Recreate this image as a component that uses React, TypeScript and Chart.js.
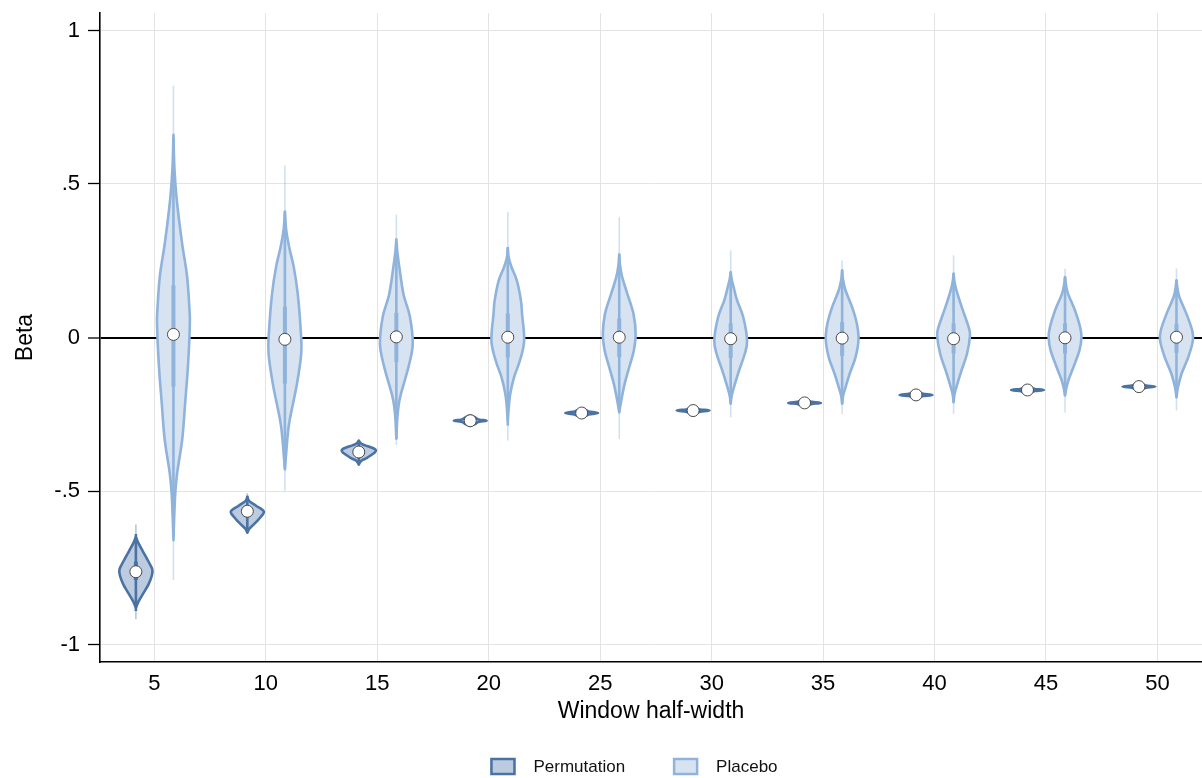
import React, { useEffect, useRef } from "react";
import { Chart, registerables } from "chart.js";

Chart.register(...registerables);

// ---------- data ----------
const windows = [5, 10, 15, 20, 25, 30, 35, 40, 45, 50];
const seriesNames = ["Permutation", "Placebo"];
const yTickValues = [-1, -0.5, 0, 0.5, 1];
const yTickLabels = ["-1", "-.5", "0", ".5", "1"];

// medians
const permMedian = [-0.763, -0.566, -0.373, -0.271, -0.246, -0.238, -0.213, -0.187, -0.171, -0.16];
const placeboMedian = [0.01, -0.006, 0.002, 0.001, 0.001, -0.004, -0.002, -0.004, -0.001, 0.001];

// box (IQR)
const permQ1 = [-0.79, -0.585, -0.38, -0.275, -0.249, -0.241, -0.216, -0.19, -0.174, -0.163];
const permQ3 = [-0.73, -0.55, -0.365, -0.267, -0.243, -0.235, -0.21, -0.184, -0.168, -0.157];
const placeboQ1 = [-0.16, -0.15, -0.08, -0.065, -0.064, -0.066, -0.06, -0.052, -0.052, -0.05];
const placeboQ3 = [0.17, 0.1, 0.08, 0.078, 0.062, 0.046, 0.05, 0.046, 0.046, 0.045];

// whiskers (adjacent values)
const permWhiskLo = [-0.891, -0.636, -0.41, -0.284, -0.254, -0.245, -0.22, -0.194, -0.178, -0.167];
const permWhiskHi = [-0.64, -0.515, -0.335, -0.258, -0.238, -0.231, -0.206, -0.18, -0.164, -0.153];
const placeboWhiskLo = [-0.65, -0.426, -0.33, -0.287, -0.244, -0.216, -0.216, -0.211, -0.189, -0.195];
const placeboWhiskHi = [0.65, 0.41, 0.31, 0.295, 0.273, 0.213, 0.219, 0.208, 0.197, 0.186];

// extreme values (thin tails)
const permMin = [-0.918, -0.64, -0.414, -0.286, -0.256, -0.246, -0.221, -0.195, -0.179, -0.168];
const permMax = [-0.609, -0.507, -0.332, -0.256, -0.236, -0.23, -0.205, -0.179, -0.163, -0.152];
const placeboMin = [-0.79, -0.5, -0.35, -0.336, -0.331, -0.26, -0.249, -0.249, -0.244, -0.238];
const placeboMax = [0.82, 0.56, 0.4, 0.409, 0.392, 0.284, 0.251, 0.268, 0.224, 0.225];

// density profiles: [beta, relative density]
const permDensity: number[][][] = [
  [[-0.88, 0], [-0.858, 0.18], [-0.831, 0.48], [-0.804, 0.77], [-0.776, 0.97], [-0.755, 1], [-0.728, 0.75], [-0.695, 0.41], [-0.668, 0.14], [-0.65, 0]],
  [[-0.636, 0], [-0.623, 0.12], [-0.607, 0.43], [-0.583, 0.84], [-0.566, 1], [-0.548, 0.53], [-0.533, 0.12], [-0.52, 0]],
  [[-0.414, 0], [-0.402, 0.14], [-0.391, 0.53], [-0.373, 1], [-0.362, 0.94], [-0.347, 0.2], [-0.336, 0]],
  [[-0.288, 0], [-0.282, 0.3], [-0.277, 0.42], [-0.274, 0.58], [-0.271, 1], [-0.268, 0.58], [-0.265, 0.42], [-0.26, 0.3], [-0.254, 0]],
  [[-0.259, 0], [-0.254, 0.3], [-0.2505, 0.44], [-0.246, 1], [-0.2415, 0.44], [-0.238, 0.3], [-0.233, 0]],
  [[-0.249, 0], [-0.244, 0.3], [-0.2415, 0.45], [-0.238, 1], [-0.2345, 0.45], [-0.232, 0.3], [-0.227, 0]],
  [[-0.223, 0], [-0.219, 0.3], [-0.2165, 0.45], [-0.213, 1], [-0.2095, 0.45], [-0.207, 0.3], [-0.203, 0]],
  [[-0.197, 0], [-0.193, 0.3], [-0.1905, 0.45], [-0.187, 1], [-0.1835, 0.45], [-0.181, 0.3], [-0.177, 0]],
  [[-0.181, 0], [-0.177, 0.3], [-0.1745, 0.45], [-0.171, 1], [-0.1675, 0.45], [-0.165, 0.3], [-0.161, 0]],
  [[-0.17, 0], [-0.166, 0.3], [-0.1635, 0.45], [-0.16, 1], [-0.1565, 0.45], [-0.154, 0.3], [-0.15, 0]],
];

const placeboDensity: number[][][] = [
  [[-0.66, 0], [-0.58, 0.05], [-0.5, 0.12], [-0.44, 0.23], [-0.33, 0.54], [-0.21, 0.72], [-0.09, 0.89], [0.04, 1], [0.09, 0.98], [0.2, 0.83], [0.31, 0.52], [0.45, 0.2], [0.55, 0.06], [0.66, 0]],
  [[-0.43, 0], [-0.33, 0.15], [-0.27, 0.29], [-0.15, 0.74], [-0.05, 1], [0.02, 0.97], [0.14, 0.79], [0.23, 0.54], [0.29, 0.28], [0.35, 0.08], [0.41, 0]],
  [[-0.33, 0], [-0.27, 0.05], [-0.23, 0.12], [-0.19, 0.25], [-0.09, 0.77], [-0.02, 1], [0.07, 0.82], [0.14, 0.44], [0.23, 0.18], [0.28, 0.06], [0.32, 0]],
  [[-0.27, 0], [-0.227, 0.06], [-0.184, 0.15], [-0.13, 0.38], [-0.075, 0.74], [-0.01, 1], [0.077, 0.87], [0.121, 0.8], [0.186, 0.55], [0.229, 0.23], [0.26, 0.06], [0.29, 0]],
  [[-0.244, 0], [-0.206, 0.12], [-0.151, 0.33], [-0.097, 0.61], [-0.042, 0.89], [0.012, 1], [0.077, 0.87], [0.143, 0.49], [0.197, 0.18], [0.235, 0.05], [0.27, 0]],
  [[-0.216, 0], [-0.19, 0.06], [-0.162, 0.2], [-0.108, 0.51], [-0.053, 0.86], [-0.01, 1], [0.066, 0.77], [0.121, 0.39], [0.164, 0.18], [0.19, 0.06], [0.213, 0]],
  [[-0.216, 0], [-0.19, 0.06], [-0.162, 0.21], [-0.118, 0.46], [-0.064, 0.82], [-0.005, 1], [0.045, 0.9], [0.099, 0.61], [0.153, 0.21], [0.19, 0.05], [0.219, 0]],
  [[-0.211, 0], [-0.184, 0.06], [-0.151, 0.23], [-0.108, 0.48], [-0.053, 0.82], [0.005, 1], [0.034, 0.92], [0.099, 0.5], [0.153, 0.18], [0.18, 0.06], [0.208, 0]],
  [[-0.189, 0], [-0.17, 0.06], [-0.14, 0.2], [-0.097, 0.51], [-0.042, 0.88], [0, 1], [0.034, 0.92], [0.088, 0.61], [0.143, 0.18], [0.175, 0.05], [0.197, 0]],
  [[-0.195, 0], [-0.162, 0.09], [-0.118, 0.31], [-0.064, 0.72], [-0.01, 1], [0.023, 0.96], [0.077, 0.61], [0.131, 0.18], [0.16, 0.06], [0.186, 0]],
];

// ---------- styling ----------
const FONT = '"Liberation Sans", Arial, Helvetica, sans-serif';
const PERM_OFFSET = -0.83;
const PLACEBO_OFFSET = 0.855;
const VIOLIN_HALF = 0.735; // in x units
const X_MIN = 2.56;
const X_MAX = 52.0;
const Y_MIN = -1.057;
const Y_MAX = 1.057;

const seriesStyle = [
  { fill: "#bccbdf", line: "#4a72a3", offset: PERM_OFFSET },
  { fill: "#d7e3f1", line: "#8fb3db", offset: PLACEBO_OFFSET },
];

const seriesData = [
  { median: permMedian, q1: permQ1, q3: permQ3, wlo: permWhiskLo, whi: permWhiskHi, min: permMin, max: permMax, dens: permDensity },
  { median: placeboMedian, q1: placeboQ1, q3: placeboQ3, wlo: placeboWhiskLo, whi: placeboWhiskHi, min: placeboMin, max: placeboMax, dens: placeboDensity },
];

function smoothPath(ctx: CanvasRenderingContext2D, pts: number[][], move: boolean) {
  if (move) ctx.moveTo(pts[0][0], pts[0][1]);
  else ctx.lineTo(pts[0][0], pts[0][1]);
  for (let i = 0; i < pts.length - 1; i++) {
    const p0 = pts[Math.max(i - 1, 0)];
    const p1 = pts[i];
    const p2 = pts[i + 1];
    const p3 = pts[Math.min(i + 2, pts.length - 1)];
    ctx.bezierCurveTo(
      p1[0] + (p2[0] - p0[0]) / 6,
      p1[1] + (p2[1] - p0[1]) / 6,
      p2[0] - (p3[0] - p1[0]) / 6,
      p2[1] - (p3[1] - p1[1]) / 6,
      p2[0],
      p2[1]
    );
  }
}

const violinPlugin = {
  id: "violins",
  beforeDatasetsDraw(chart: any) {
    const { ctx, scales } = chart;
    const xs = scales.x;
    const ys = scales.y;
    seriesData.forEach((s, si) => {
      const st = seriesStyle[si];
      windows.forEach((w, i) => {
        const cx = w + st.offset;
        const px = xs.getPixelForValue(cx);
        const hw = xs.getPixelForValue(cx + VIOLIN_HALF) - px;
        ctx.save();
        ctx.lineCap = "butt";
        // faint tails
        ctx.strokeStyle = st.line;
        ctx.globalAlpha = 0.4;
        ctx.lineWidth = 1.6;
        ctx.beginPath();
        ctx.moveTo(px, ys.getPixelForValue(s.min[i]));
        ctx.lineTo(px, ys.getPixelForValue(s.max[i]));
        ctx.stroke();
        ctx.globalAlpha = 1;
        // body
        const dens = s.dens[i];
        const left = dens.map(([b, r]) => [px - r * hw, ys.getPixelForValue(b)]);
        const right = dens.slice().reverse().map(([b, r]) => [px + r * hw, ys.getPixelForValue(b)]);
        ctx.beginPath();
        smoothPath(ctx, left, true);
        smoothPath(ctx, right, false);
        ctx.closePath();
        ctx.fillStyle = st.fill;
        ctx.fill();
        ctx.lineJoin = "round";
        ctx.lineWidth = 2.6;
        ctx.strokeStyle = st.line;
        ctx.stroke();
        // whisker
        ctx.lineWidth = 2.6;
        ctx.beginPath();
        ctx.moveTo(px, ys.getPixelForValue(s.wlo[i]));
        ctx.lineTo(px, ys.getPixelForValue(s.whi[i]));
        ctx.stroke();
        // box
        ctx.lineWidth = 4;
        ctx.beginPath();
        ctx.moveTo(px, ys.getPixelForValue(s.q1[i]));
        ctx.lineTo(px, ys.getPixelForValue(s.q3[i]));
        ctx.stroke();
        ctx.restore();
      });
    });
  },
};

const legendPlugin = {
  id: "violinLegend",
  afterDraw(chart: any) {
    const ctx: CanvasRenderingContext2D = chart.ctx;
    ctx.save();
    ctx.font = `17px ${FONT}`;
    const boxW = 25;
    const boxH = 17;
    const gapText = 18;
    const gapItem = 48;
    const widths = seriesNames.map((t) => ctx.measureText(t).width);
    const total = widths.reduce((a, w) => a + boxW + gapText + w, 0) + gapItem * (seriesNames.length - 1);
    let x = 634 - total / 2;
    const yTop = 758;
    seriesNames.forEach((name, i) => {
      const st = seriesStyle[i];
      ctx.fillStyle = st.fill;
      ctx.fillRect(x, yTop, boxW, boxH);
      ctx.strokeStyle = st.line;
      ctx.lineWidth = 2.5;
      ctx.strokeRect(x + 1, yTop + 1, boxW - 2, boxH - 2);
      ctx.fillStyle = "#111";
      ctx.textBaseline = "middle";
      ctx.textAlign = "left";
      ctx.fillText(name, x + boxW + gapText, yTop + boxH / 2 + 1);
      x += boxW + gapText + widths[i] + gapItem;
    });
    ctx.restore();
  },
};

export default function App() {
  const canvasRef = useRef<HTMLCanvasElement | null>(null);

  useEffect(() => {
    document.body.style.margin = "0";
    document.body.style.overflow = "hidden";
    const canvas = canvasRef.current;
    if (!canvas) return;
    const pointStyle = {
      pointRadius: 6,
      pointHoverRadius: 6,
      pointBackgroundColor: "#ffffff",
      pointBorderColor: "#4a4a4a",
      pointBorderWidth: 1,
      showLine: false,
    };
    const chart = new Chart(canvas, {
      type: "scatter",
      data: {
        datasets: seriesData.map((s, si) => ({
          label: seriesNames[si],
          data: windows.map((w, i) => ({ x: w + seriesStyle[si].offset, y: s.median[i] })),
          ...pointStyle,
        })),
      },
      options: {
        animation: false,
        responsive: false,
        events: [],
        layout: { autoPadding: false, padding: { top: 13, right: 0, bottom: 0, left: 0 } },
        plugins: {
          legend: { display: false },
          tooltip: { enabled: false },
        },
        scales: {
          x: {
            type: "linear",
            min: X_MIN,
            max: X_MAX,
            afterBuildTicks: (s: any) => {
              s.ticks = windows.map((v) => ({ value: v }));
            },
            afterFit: (s: any) => {
              s.height = 116;
              s.paddingLeft = 0;
              s.paddingRight = 0;
            },
            grid: { color: "#e3e3e3", lineWidth: 1, drawTicks: false },
            border: { display: true, color: "#000", width: 1.6 },
            ticks: {
              padding: 9,
              color: "#000",
              font: { family: FONT, size: 22 },
              callback: (v: any) => String(v),
              maxRotation: 0,
            },
            title: {
              display: true,
              text: "Window half-width",
              color: "#000",
              font: { family: FONT, size: 23 },
              padding: { top: 0, bottom: 53 },
            },
          },
          y: {
            type: "linear",
            min: Y_MIN,
            max: Y_MAX,
            afterBuildTicks: (s: any) => {
              s.ticks = yTickValues.map((v) => ({ value: v }));
            },
            afterFit: (s: any) => {
              s.width = 100;
              s.paddingTop = 0;
              s.paddingBottom = 0;
            },
            grid: {
              color: (c: any) => (c.tick && c.tick.value === 0 ? "#000" : "#e3e3e3"),
              lineWidth: (c: any) => (c.tick && c.tick.value === 0 ? 2 : 1),
              tickColor: "#000",
              tickWidth: 1.3,
              tickLength: 12,
            },
            border: { display: true, color: "#000", width: 1.6 },
            ticks: {
              padding: 8,
              color: "#000",
              font: { family: FONT, size: 22 },
              callback: (_v: any, idx: number) => yTickLabels[idx],
            },
            title: {
              display: true,
              text: "Beta",
              color: "#000",
              font: { family: FONT, size: 23 },
              padding: { top: 12, bottom: 0 },
            },
          },
        },
      },
      plugins: [violinPlugin, legendPlugin],
    } as any);
    return () => chart.destroy();
  }, []);

  return (
    <div style={{ width: 1202, height: 778, background: "#fff" }}>
      <canvas ref={canvasRef} width={1202} height={778} style={{ width: 1202, height: 778, display: "block" }} />
    </div>
  );
}
